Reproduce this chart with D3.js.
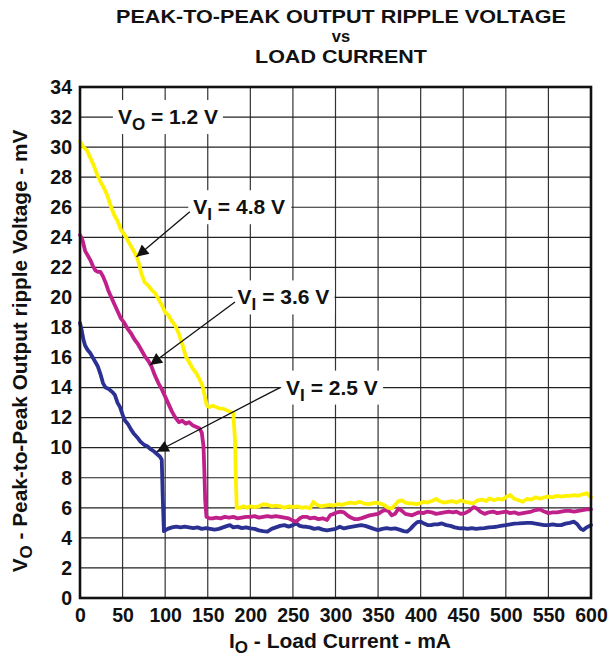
<!DOCTYPE html>
<html>
<head>
<meta charset="utf-8">
<script src="https://cdn.jsdelivr.net/npm/d3@7"></script>
<style>
  html, body { margin: 0; padding: 0; background: #fff; }
  svg { display: block; }
  text { font-family: "Liberation Sans", Arial, Helvetica, sans-serif; font-weight: bold; fill: #111; }
</style>
</head>
<body>
<div id="chart"></div>
<script>
// ---------- data ----------
const xTicks = [0, 50, 100, 150, 200, 250, 300, 350, 400, 450, 500, 550, 600];
const yTicks = [0, 2, 4, 6, 8, 10, 12, 14, 16, 18, 20, 22, 24, 26, 28, 30, 32, 34];

// [load current mA, ripple mV]
const seriesVi48 = [
  [0,30.4],[4,30.0],[8,29.8],[12,29.3],[16,28.8],[20,28.2],[24,27.7],[28,27.3],[32,26.8],[36,26.1],
  [40,25.5],[44,25.1],[48,24.5],[52,24.2],[56,23.8],[60,23.4],[64,23.0],[68,22.5],[72,21.6],[76,21.0],
  [80,20.8],[84,20.5],[88,20.3],[92,19.9],[96,19.5],[100,19.0],[104,18.8],[108,18.4],[112,18.1],[116,17.6],
  [120,16.9],[124,16.1],[128,15.7],[132,15.3],[136,15.0],[140,14.6],[144,14.1],[147,13.3],[149,12.8],[152,12.7],
  [156,12.8],[160,12.7],[164,12.6],[168,12.6],[172,12.5],[176,12.4],[180,12.3],[182,10.5],[183,8.0],[184,6.0],
  [188,6.0],[192,6.1],[196,6.0],[200,6.1],[205,6.05],[210,6.1],[215,6.25],[220,6.2],[225,6.1],[230,6.15],
  [235,6.1],[240,6.0],[245,6.1],[250,6.05],[255,6.1],[260,6.0],[265,6.05],[270,5.97],[274,6.4],[278,6.2],
  [283,6.1],[288,6.15],[293,6.2],[298,6.15],[303,6.25],[308,6.2],[313,6.3],[318,6.35],[323,6.3],[328,6.4],
  [333,6.3],[338,6.25],[343,6.3],[348,6.35],[352,6.3],[358,6.15],[362,6.0],[366,5.97],[370,6.2],[374,6.45],
  [378,6.5],[382,6.35],[386,6.3],[390,6.3],[395,6.25],[399,6.3],[404,6.4],[408,6.35],[413,6.45],[418,6.6],
  [422,6.45],[427,6.35],[432,6.4],[437,6.45],[442,6.35],[447,6.5],[452,6.4],[457,6.35],[462,6.3],[467,6.5],
  [472,6.55],[477,6.45],[481,6.63],[486,6.5],[491,6.6],[496,6.55],[500,6.7],[505,6.85],[510,6.6],[515,6.5],
  [520,6.4],[525,6.6],[530,6.55],[535,6.7],[540,6.6],[545,6.7],[550,6.75],[555,6.7],[560,6.8],[565,6.75],
  [570,6.8],[575,6.8],[580,6.85],[585,6.8],[590,6.9],[595,6.97],[600,6.7]
];
const seriesVi36 = [
  [0,24.15],[3,23.8],[6,23.1],[9,22.8],[12,22.5],[15,22.1],[18,21.8],[21,21.7],[24,21.7],[27,21.4],
  [30,21.0],[33,20.5],[36,20.1],[40,19.6],[44,19.1],[48,18.6],[52,18.3],[56,17.9],[60,17.6],[64,17.2],
  [68,16.9],[72,16.5],[76,16.1],[80,15.8],[84,15.4],[88,14.8],[92,14.3],[96,13.9],[100,13.4],[104,12.9],
  [108,12.4],[112,12.0],[116,11.7],[120,11.8],[124,11.6],[128,11.7],[132,11.5],[136,11.4],[140,11.3],[143,11.0],
  [145,10.1],[146,8.5],[147,6.5],[148.5,5.4],[152,5.3],[156,5.3],[160,5.35],[165,5.3],[170,5.4],[175,5.35],
  [180,5.4],[185,5.3],[190,5.35],[195,5.4],[200,5.4],[205,5.45],[210,5.35],[215,5.4],[220,5.45],[225,5.4],
  [230,5.45],[235,5.4],[240,5.35],[245,5.3],[250,5.15],[254,5.08],[258,5.3],[262,5.4],[266,5.4],[270,5.3],
  [275,5.35],[280,5.25],[285,5.3],[290,5.19],[294,5.52],[298,5.6],[302,5.7],[306,5.75],[310,5.7],[314,5.5],
  [318,5.35],[322,5.25],[326,5.25],[330,5.3],[335,5.4],[340,5.5],[345,5.55],[350,5.6],[354,5.75],[358,5.85],
  [362,5.8],[366,5.5],[370,5.6],[374,5.95],[378,5.8],[382,5.6],[386,5.55],[390,5.5],[394,5.6],[398,5.7],
  [403,5.65],[408,5.75],[413,5.7],[418,5.6],[423,5.65],[428,5.7],[433,5.75],[438,5.7],[442,5.75],[447,5.6],
  [452,5.65],[457,5.8],[462,6.05],[466,5.95],[470,5.75],[475,5.6],[480,5.7],[485,5.75],[490,5.65],[495,5.7],
  [500,5.75],[505,5.65],[510,5.7],[515,5.6],[520,5.65],[525,5.7],[530,5.75],[535,5.85],[540,5.9],[545,5.75],
  [550,5.65],[555,5.7],[560,5.7],[565,5.75],[570,5.8],[575,5.8],[580,5.75],[585,5.8],[590,5.85],[595,5.9],[600,5.9]
];
const seriesVi25 = [
  [0,18.3],[2,17.8],[4,17.2],[6,16.8],[9,16.5],[12,16.3],[15,16.0],[18,15.7],[21,15.4],[24,14.9],
  [27,14.3],[30,14.0],[34,13.9],[38,13.7],[41,13.5],[44,13.0],[47,12.7],[50,12.2],[53,11.8],[56,11.6],
  [60,11.2],[63,10.95],[67,10.7],[71,10.4],[75,10.2],[79,10.1],[83,9.9],[87,9.75],[91,9.55],[94,9.4],
  [96,9.2],[97,7.0],[98.5,4.45],[103,4.6],[108,4.7],[113,4.75],[118,4.7],[123,4.75],[128,4.7],[133,4.65],
  [138,4.7],[143,4.6],[148,4.65],[153,4.6],[158,4.55],[163,4.6],[168,4.7],[173,4.8],[176,4.85],[180,4.7],
  [185,4.75],[190,4.65],[195,4.7],[200,4.63],[205,4.6],[210,4.5],[215,4.45],[220,4.42],[225,4.6],[230,4.7],
  [235,4.8],[240,4.85],[245,4.75],[250,4.85],[254,4.96],[258,4.8],[262,4.75],[266,4.74],[270,4.7],[275,4.6],
  [280,4.65],[285,4.55],[290,4.5],[295,4.55],[300,4.6],[305,4.74],[310,4.63],[315,4.7],[320,4.75],[325,4.8],
  [330,4.85],[335,4.8],[340,4.7],[345,4.6],[350,4.52],[355,4.6],[360,4.65],[365,4.6],[370,4.63],[375,4.55],
  [380,4.45],[384,4.41],[388,4.6],[392,4.85],[396,5.05],[400,5.08],[404,4.95],[408,4.85],[412,4.85],[416,4.9],
  [420,4.9],[425,4.96],[430,4.85],[435,4.8],[440,4.7],[446,4.63],[450,4.65],[455,4.6],[460,4.65],[465,4.6],
  [470,4.63],[475,4.65],[480,4.7],[485,4.72],[489,4.74],[494,4.8],[500,4.85],[505,4.9],[510,4.95],[515,4.96],
  [520,4.98],[525,5.0],[530,5.0],[535,4.95],[540,4.9],[545,4.85],[550,4.85],[555,4.9],[560,4.85],[565,4.85],
  [570,4.95],[575,5.0],[580,5.08],[584,4.9],[588,4.6],[591,4.52],[595,4.7],[600,4.85]
];

// ---------- chart ----------
const W = 611, H = 664;
const mLeft = 80, mRight = 591, mTop = 87, mBottom = 598;

const svg = d3.select("#chart").append("svg").attr("width", W).attr("height", H);

const x = d3.scaleLinear().domain([0, 600]).range([mLeft, mRight]);
const y = d3.scaleLinear().domain([0, 34]).range([mBottom, mTop]);

// title
const title = svg.append("g");
title.append("text").attr("x", 341).attr("y", 23).attr("text-anchor", "middle")
  .style("font-size", "18.5px").attr("textLength", 450).attr("lengthAdjust", "spacingAndGlyphs")
  .text("PEAK-TO-PEAK OUTPUT RIPPLE VOLTAGE");
title.append("text").attr("x", 341).attr("y", 42).attr("text-anchor", "middle")
  .style("font-size", "16.5px").text("vs");
title.append("text").attr("x", 341).attr("y", 63).attr("text-anchor", "middle")
  .style("font-size", "18.5px").attr("textLength", 172).attr("lengthAdjust", "spacingAndGlyphs")
  .text("LOAD CURRENT");

// grid
const grid = svg.append("g");
grid.selectAll(".gx").data(xTicks).join("line")
  .attr("x1", d => x(d)).attr("x2", d => x(d)).attr("y1", mTop).attr("y2", mBottom)
  .attr("stroke", "#333").attr("stroke-width", 1.2);
grid.selectAll(".gy").data(yTicks).join("line")
  .attr("x1", mLeft).attr("x2", mRight).attr("y1", d => y(d)).attr("y2", d => y(d))
  .attr("stroke", "#222").attr("stroke-width", 1.2);

// axes
const xAxis = svg.append("g").attr("transform", `translate(0,${mBottom})`)
  .call(d3.axisBottom(x).tickValues(xTicks).tickSize(0).tickPadding(18).tickFormat(d3.format("d")));
const yAxis = svg.append("g").attr("transform", `translate(${mLeft},0)`)
  .call(d3.axisLeft(y).tickValues(yTicks).tickSize(0).tickPadding(8).tickFormat(d3.format("d")));
[xAxis, yAxis].forEach(a => {
  a.select(".domain").remove();
  a.selectAll("text").style("font-size", "19.5px").style("font-family", "'Liberation Sans', Arial, sans-serif")
    .style("font-weight", "bold").attr("fill", "#111");
});
xAxis.selectAll("text").attr("dy", "0.32em");

// annotation label helper (white box)
function label(cx, cy, main, sub, rest, w) {
  const g = svg.append("g");
  g.append("rect").attr("x", cx - 5).attr("y", cy - 17).attr("width", w).attr("height", 34).attr("fill", "#fff");
  const t = g.append("text").attr("x", cx).attr("y", cy + 7).style("font-size", "21px");
  t.append("tspan").text(main);
  t.append("tspan").attr("dy", 6).style("font-size", "17px").text(sub);
  t.append("tspan").attr("dy", -6).text(rest);
  return g;
}

// lines
const line = d3.line().x(d => x(d[0])).y(d => y(d[1]));
const seriesList = [
  { data: seriesVi25, color: "#2b3192" },
  { data: seriesVi36, color: "#c0208a" },
  { data: seriesVi48, color: "#fff200" }
];
svg.append("g").selectAll("path").data(seriesList).join("path")
  .attr("d", d => line(d.data)).attr("fill", "none")
  .attr("stroke", d => d.color).attr("stroke-width", 3.8)
  .attr("stroke-linejoin", "round").attr("stroke-linecap", "round");

// frame
svg.append("rect").attr("x", mLeft).attr("y", mTop).attr("width", mRight - mLeft).attr("height", mBottom - mTop)
  .attr("fill", "none").attr("stroke", "#111").attr("stroke-width", 2.6);

// annotations
label(x(44.5), y(32), "V", "O", " = 1.2 V", 110);
label(x(133), y(26), "V", "I", " = 4.8 V", 103);
label(x(185), y(20), "V", "I", " = 3.6 V", 102);
label(x(242), y(14), "V", "I", " = 2.5 V", 102);

// arrows
svg.append("defs").append("marker").attr("id", "ah").attr("viewBox", "0 0 10 10")
  .attr("refX", 10).attr("refY", 5).attr("markerWidth", 16).attr("markerHeight", 12)
  .attr("markerUnits", "userSpaceOnUse").attr("orient", "auto")
  .append("path").attr("d", "M0,0 L10,5 L0,10 Z").attr("fill", "#111");
const arrows = [
  { from: [129, 25.7], to: [66.3, 22.7] },
  { from: [182, 19.7], to: [82.2, 15.5] },
  { from: [234.8, 14.0], to: [90, 9.73] }
];
svg.append("g").selectAll("line").data(arrows).join("line")
  .attr("x1", d => x(d.from[0])).attr("y1", d => y(d.from[1]))
  .attr("x2", d => x(d.to[0])).attr("y2", d => y(d.to[1]))
  .attr("stroke", "#111").attr("stroke-width", 1.3).attr("marker-end", "url(#ah)");

// axis titles
const xt = svg.append("text").attr("x", 340).attr("y", 648).attr("text-anchor", "middle").style("font-size", "21px");
xt.append("tspan").text("I");
xt.append("tspan").attr("dy", 5).style("font-size", "17px").text("O");
xt.append("tspan").attr("dy", -5).text(" - Load Current - mA");

const yt = svg.append("text").attr("transform", "translate(27,351) rotate(-90)").attr("text-anchor", "middle").style("font-size", "20.8px");
yt.append("tspan").text("V");
yt.append("tspan").attr("dy", 5).style("font-size", "17px").text("O");
yt.append("tspan").attr("dy", -5).text(" - Peak-to-Peak Output ripple Voltage - mV");
</script>
</body>
</html>
